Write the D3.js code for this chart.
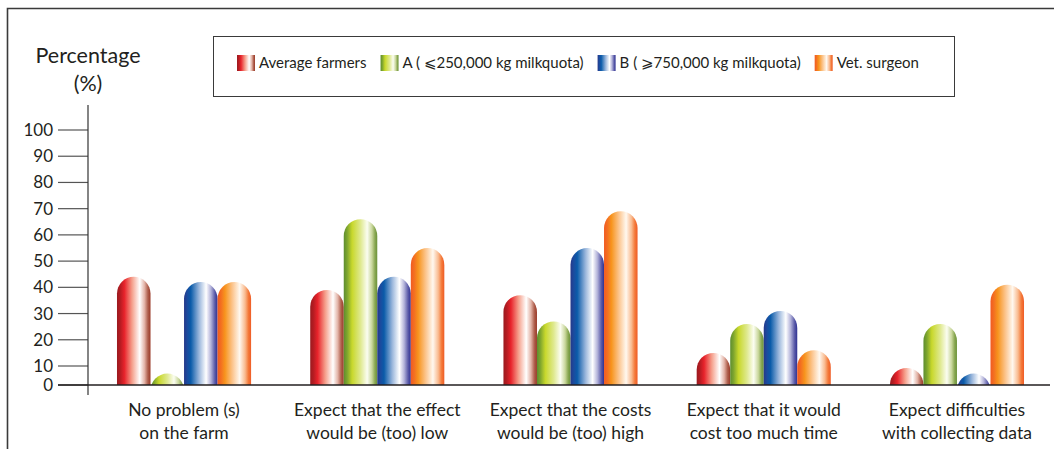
<!DOCTYPE html>
<html>
<head>
<meta charset="utf-8">
<script src="https://cdn.jsdelivr.net/npm/d3@7"></script>
<style>
  body { margin: 0; background: #fff; }
  svg { display: block; }
  text { font-family: Lato, "Noto Sans", "DejaVu Sans", sans-serif; fill: #231f20; }
</style>
</head>
<body>
<svg id="chart" width="1054" height="449"></svg>
<script>
// Reasons given for not using the tool, share of respondents (%)
const categories = ["noProblem", "effectLow", "costsHigh", "tooMuchTime", "collectingData"];
const categoryLines = [
  ["No problem (s)", "on the farm"],
  ["Expect that the effect", "would be (too) low"],
  ["Expect that the costs", "would be (too) high"],
  ["Expect that it would", "cost too much time"],
  ["Expect difficulties", "with collecting data"]
];
const seriesNames = [
  "Average farmers",
  "A ( \u2A7D250,000 kg milkquota)",
  "B ( \u2A7E750,000 kg milkquota)",
  "Vet. surgeon"
];
const averageFarmers = [44, 39, 37, 15, 9];
const groupA         = [6, 66, 27, 26, 26];
const groupB         = [42, 44, 55, 31, 6];
const vetSurgeon     = [42, 55, 69, 16, 41];
const yTicks = [0, 10, 20, 30, 40, 50, 60, 70, 80, 90, 100];

const seriesValues = [averageFarmers, groupA, groupB, vetSurgeon];

// Glossy tube shading for each series
const gradients = [
  [[0, "#9a1a1f"], [0.1, "#b71c22"], [0.22, "#e8232b"], [0.45, "#f5a08c"], [0.68, "#ffffff"], [0.82, "#e3b4a8"], [0.92, "#b0614f"], [1, "#993826"]],
  [[0, "#5d8d2f"], [0.1, "#7ea52e"], [0.25, "#c8d82c"], [0.5, "#dfe98f"], [0.7, "#fbfdf1"], [0.84, "#c9d79c"], [0.93, "#8aa853"], [1, "#6a9239"]],
  [[0, "#273889"], [0.1, "#1a4c9f"], [0.2, "#0a5ba9"], [0.45, "#9bb7dc"], [0.66, "#ffffff"], [0.8, "#b4b4da"], [0.92, "#5a5aa8"], [1, "#2e3192"]],
  [[0, "#f15a22"], [0.1, "#f36f21"], [0.22, "#f7941d"], [0.45, "#fcc690"], [0.66, "#fff8ef"], [0.82, "#f9bb90"], [0.92, "#f47a3a"], [1, "#ef5b25"]]
];

const svg = d3.select("#chart");
const baseY = 385;
const axisX = 88;

// Vertical scale: the first decade is drawn shorter than the rest
const y = d3.scaleLinear().domain([0, 10, 100]).range([baseY, 366, 130]);

const x = d3.scaleBand()
  .domain(categories)
  .range([axisX, 1053])
  .paddingInner(0.306)
  .paddingOuter(0.15);

const xs = d3.scaleBand()
  .domain(d3.range(seriesNames.length))
  .range([0, x.bandwidth()])
  .padding(0);

const defs = svg.append("defs");
gradients.forEach((stops, i) => {
  const g = defs.append("linearGradient")
    .attr("id", "grad" + i)
    .attr("x1", "0").attr("x2", "1").attr("y1", "0").attr("y2", "0");
  stops.forEach(([o, c]) => g.append("stop").attr("offset", o).attr("stop-color", c));
});
defs.append("clipPath").attr("id", "aboveBase")
  .append("rect").attr("x", 0).attr("y", 0).attr("width", 1054).attr("height", baseY);

// Outer frame (left and top edges)
svg.append("path")
  .attr("d", `M7.5,449 V8.5 H1054`)
  .attr("fill", "none")
  .attr("stroke", "#3a3a3a")
  .attr("stroke-width", 1.6);

// Y axis title
svg.append("text").attr("x", axisX).attr("y", 63)
  .attr("text-anchor", "middle").attr("font-size", 21.5).text("Percentage");
svg.append("text").attr("x", axisX).attr("y", 91)
  .attr("text-anchor", "middle").attr("font-size", 21.5).text("(%)");

// Tick marks and labels
const tickG = svg.append("g");
tickG.selectAll("line").data(yTicks).join("line")
  .attr("x1", 58).attr("x2", axisX)
  .attr("y1", d => y(d)).attr("y2", d => y(d))
  .attr("stroke", "#555").attr("stroke-width", 1.2);
tickG.selectAll("text").data(yTicks).join("text")
  .attr("x", 53).attr("y", d => y(d)).attr("dy", "0.35em")
  .attr("text-anchor", "end").attr("font-size", 17)
  .text(d => d);

// Bars with rounded tops
const r = xs.bandwidth() / 2;
const barG = svg.append("g").attr("clip-path", "url(#aboveBase)");
categories.forEach((cat, ci) => {
  seriesValues.forEach((vals, si) => {
    const top = y(vals[ci]);
    barG.append("rect")
      .attr("x", x(cat) + xs(si))
      .attr("y", top)
      .attr("width", xs.bandwidth())
      .attr("height", baseY - top + 2 * r + 2)
      .attr("rx", r).attr("ry", r)
      .attr("fill", `url(#grad${si})`);
  });
});

// Vertical axis line and baseline
svg.append("line")
  .attr("x1", axisX).attr("x2", axisX).attr("y1", 105).attr("y2", 395)
  .attr("stroke", "#333").attr("stroke-width", 1.2);
svg.append("line")
  .attr("x1", 58).attr("x2", 1050).attr("y1", baseY).attr("y2", baseY)
  .attr("stroke", "#231f20").attr("stroke-width", 1.6);

// Category labels
const catG = svg.append("g");
categories.forEach((cat, ci) => {
  const cx = x(cat) + x.bandwidth() / 2;
  const t = catG.append("text")
    .attr("x", cx)
    .attr("y", 416)
    .attr("text-anchor", "middle")
    .attr("font-size", 17.5);
  categoryLines[ci].forEach((line, li) => {
    t.append("tspan").attr("x", cx)
      .attr("dy", li === 0 ? 0 : 23).text(line);
  });
});

// Legend
svg.append("rect")
  .attr("x", 213.5).attr("y", 36.5).attr("width", 741).attr("height", 60)
  .attr("fill", "#fff").attr("stroke", "#3a3a3a").attr("stroke-width", 1);
let lx = 237;
seriesNames.forEach((name, i) => {
  svg.append("rect")
    .attr("x", lx).attr("y", 55).attr("width", 18).attr("height", 16)
    .attr("fill", `url(#grad${i})`);
  const t = svg.append("text")
    .attr("x", lx + 22).attr("y", 63).attr("dy", "0.35em")
    .attr("font-size", 15).text(name);
  lx += 22 + t.node().getComputedTextLength() + 14;
});
</script>
</body>
</html>
